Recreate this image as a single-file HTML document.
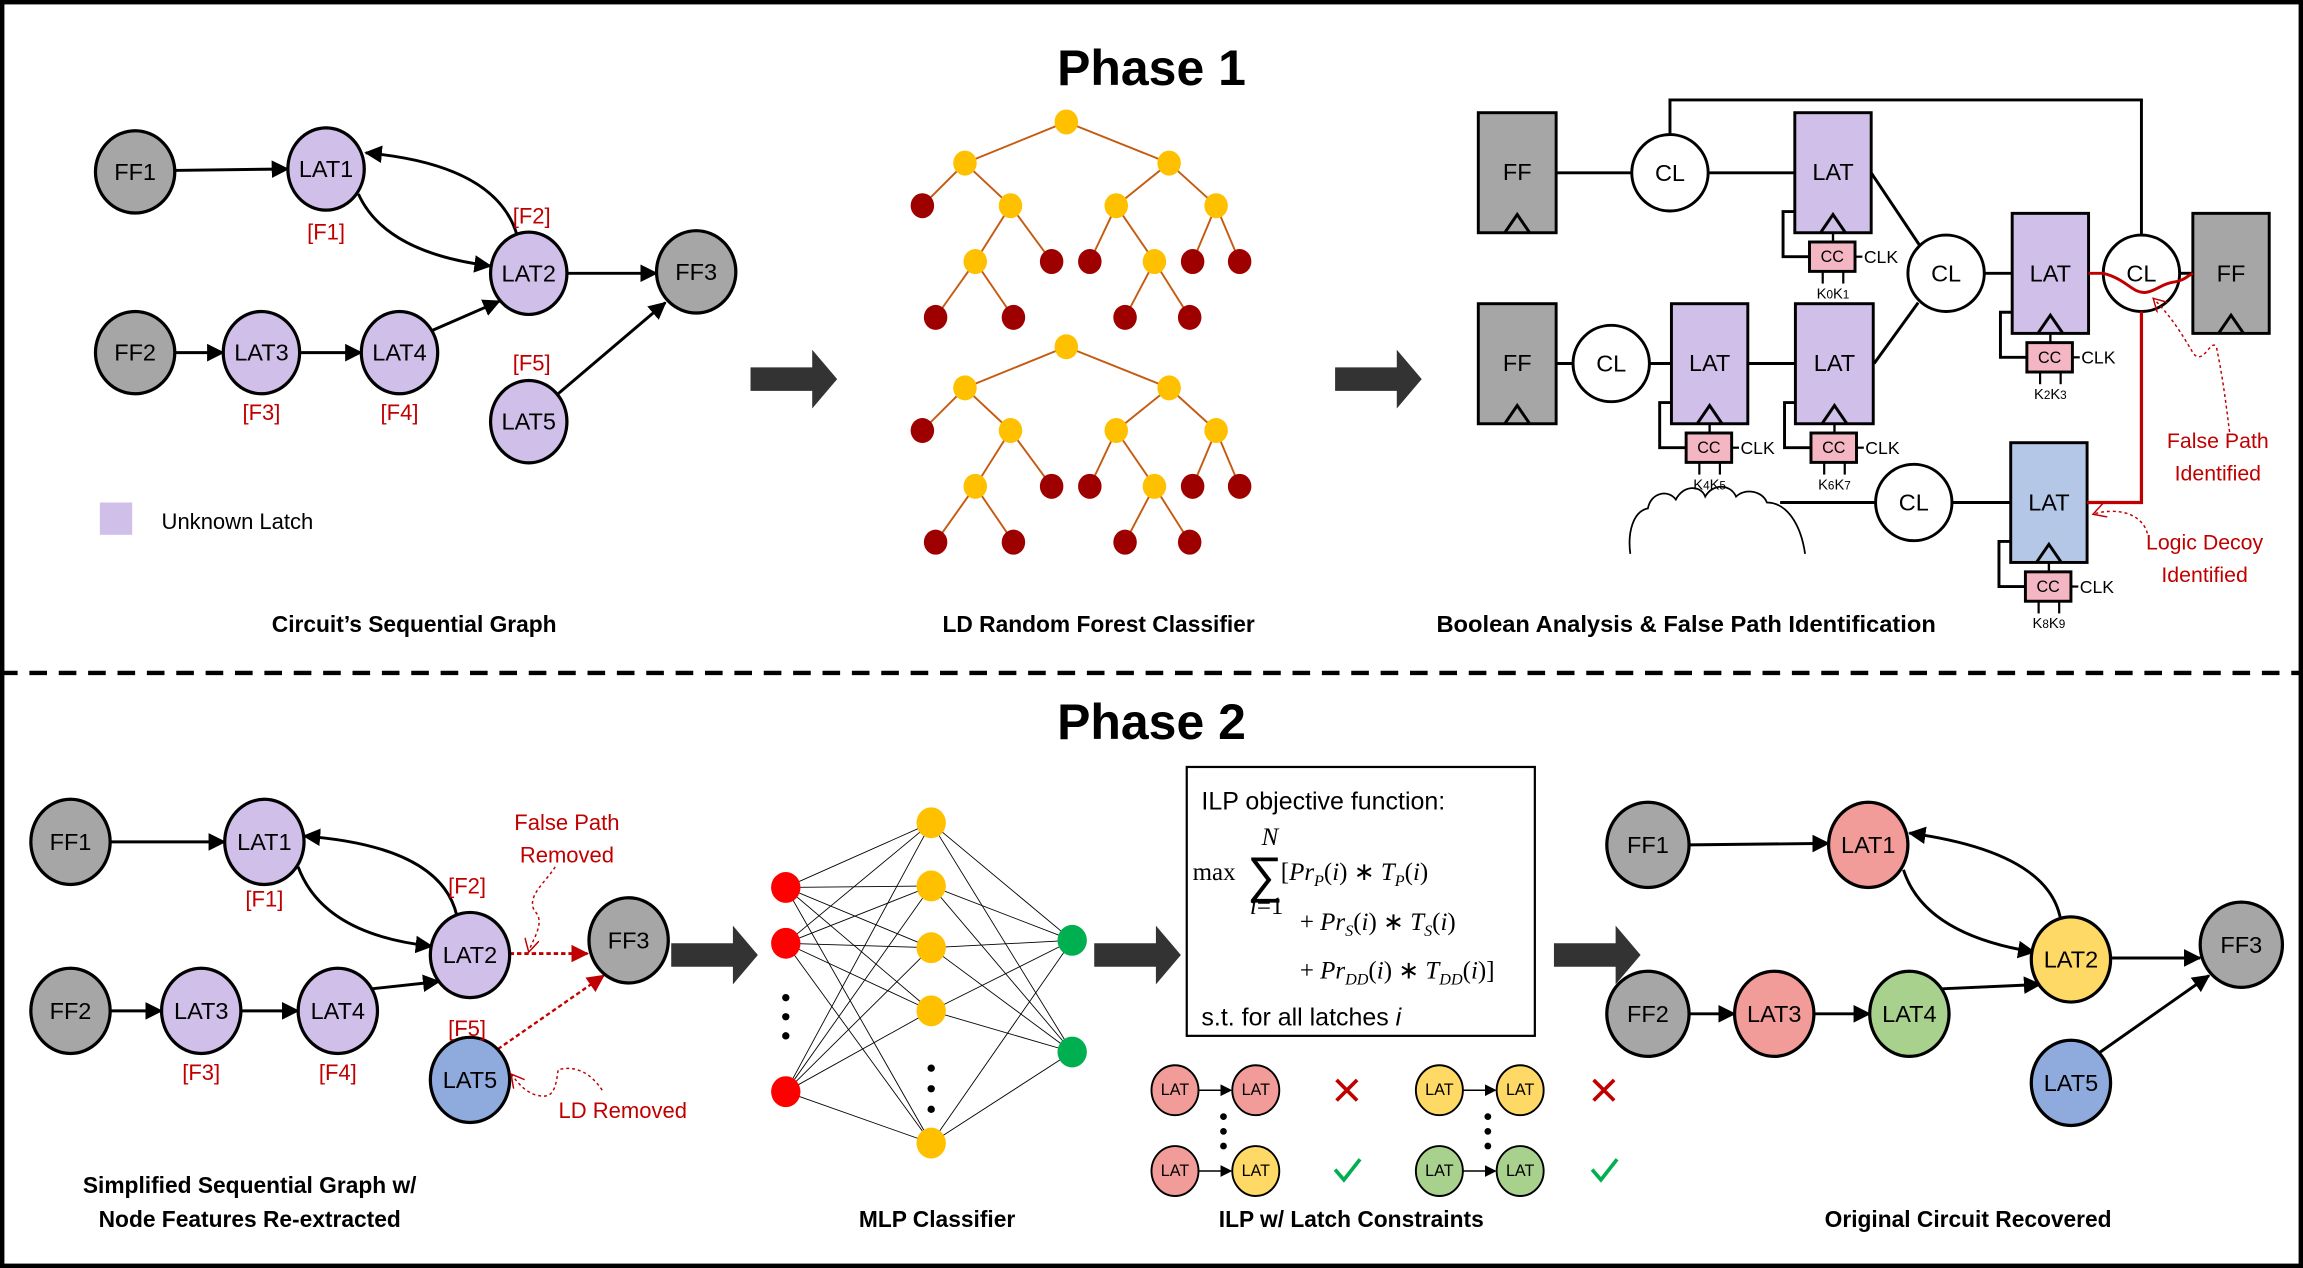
<!DOCTYPE html>
<html><head><meta charset="utf-8"><style>
html,body{margin:0;padding:0;background:#fff;}
svg{display:block;}
text{font-family:"Liberation Sans",sans-serif;}
.n{font-size:16px;text-anchor:middle;dominant-baseline:central;fill:#000;}
.f{font-size:15px;text-anchor:middle;fill:#c00000;}
.cap{font-size:15.5px;font-weight:bold;text-anchor:middle;fill:#000;}
.w{stroke:#000;stroke-width:2;fill:none;}
.e{stroke:#000;stroke-width:2;}
.t{stroke:#c55a11;stroke-width:1.3;}
.m{stroke:#000;stroke-width:0.6;}
.sm{font-size:11px;text-anchor:middle;dominant-baseline:central;}
.k{font-size:10px;text-anchor:middle;}
.clk{font-size:12px;}
.math{font-family:"Liberation Serif",serif;font-size:17px;}
</style></head><body>
<svg width="2303" height="1268" viewBox="0 0 1568 863" preserveAspectRatio="none" xmlns="http://www.w3.org/2000/svg">
<defs>
<marker id="ah" markerUnits="userSpaceOnUse" markerWidth="12" markerHeight="12" refX="11" refY="6" orient="auto"><path d="M0,0 L12,6 L0,12 z" fill="#000"/></marker>
<marker id="ahs" markerUnits="userSpaceOnUse" markerWidth="8" markerHeight="8" refX="7" refY="4" orient="auto"><path d="M0,0 L8,4 L0,8 z" fill="#000"/></marker>
<marker id="ahr" markerUnits="userSpaceOnUse" markerWidth="12" markerHeight="12" refX="11" refY="6" orient="auto"><path d="M0,0 L12,6 L0,12 z" fill="#c00000"/></marker>
<marker id="ahro" markerUnits="userSpaceOnUse" markerWidth="10" markerHeight="10" refX="9" refY="5" orient="auto"><path d="M0,0 L9,5 L0,10" fill="none" stroke="#c00000" stroke-width="1"/></marker>
</defs>
<rect x="1.5" y="1.5" width="1565" height="860" fill="#fff" stroke="#000" stroke-width="3"/>
<line x1="0" y1="458" x2="1568" y2="458" stroke="#000" stroke-width="3" stroke-dasharray="12,8"/>
<text x="784" y="58" font-size="34" font-weight="bold" text-anchor="middle">Phase 1</text>
<text x="784" y="503" font-size="34" font-weight="bold" text-anchor="middle">Phase 2</text>

<!-- Phase1 graph -->
<g>
<line class="e" x1="118" y1="116" x2="196" y2="115" marker-end="url(#ah)"/>
<path class="w" d="M244,132 Q262,172 334,181" marker-end="url(#ah)"/>
<path class="w" d="M352,160 Q338,112 249,104" marker-end="url(#ah)"/>
<line class="e" x1="386" y1="186" x2="447" y2="186" marker-end="url(#ah)"/>
<line class="e" x1="118" y1="240" x2="152" y2="240" marker-end="url(#ah)"/>
<line class="e" x1="204" y1="240" x2="246" y2="240" marker-end="url(#ah)"/>
<line class="e" x1="294" y1="225" x2="340" y2="205" marker-end="url(#ah)"/>
<line class="e" x1="380" y1="268" x2="453" y2="206" marker-end="url(#ah)"/>
<g stroke="#000" stroke-width="2.2">
<ellipse cx="92" cy="117" rx="27" ry="28" fill="#a6a6a6"/>
<ellipse cx="222" cy="115" rx="26" ry="28" fill="#d0bfe9"/>
<ellipse cx="360" cy="186" rx="26" ry="28" fill="#d0bfe9"/>
<ellipse cx="474" cy="185" rx="27" ry="28" fill="#a6a6a6"/>
<ellipse cx="92" cy="240" rx="27" ry="28" fill="#a6a6a6"/>
<ellipse cx="178" cy="240" rx="26" ry="28" fill="#d0bfe9"/>
<ellipse cx="272" cy="240" rx="26" ry="28" fill="#d0bfe9"/>
<ellipse cx="360" cy="287" rx="26" ry="28" fill="#d0bfe9"/>
</g>
<text class="n" x="92" y="117">FF1</text><text class="n" x="222" y="115">LAT1</text>
<text class="n" x="360" y="186">LAT2</text><text class="n" x="474" y="185">FF3</text>
<text class="n" x="92" y="240">FF2</text><text class="n" x="178" y="240">LAT3</text>
<text class="n" x="272" y="240">LAT4</text><text class="n" x="360" y="287">LAT5</text>
<text class="f" x="222" y="163">[F1]</text><text class="f" x="362" y="152">[F2]</text>
<text class="f" x="178" y="286">[F3]</text><text class="f" x="272" y="286">[F4]</text>
<text class="f" x="362" y="252">[F5]</text>
<rect x="68" y="342" width="22" height="22" fill="#d0bfe9"/>
<text x="110" y="360" font-size="15">Unknown Latch</text>
<text class="cap" x="282" y="430">Circuit’s Sequential Graph</text>
</g>

<!-- big arrows -->
<g fill="#333">
<polygon points="511,250 553,250 553,238 570,258 553,278 553,266 511,266"/>
<polygon points="909,250 951,250 951,238 968,258 951,278 951,266 909,266"/>
<polygon points="457,642 499,642 499,630 516,650 499,670 499,658 457,658"/>
<polygon points="745,642 787,642 787,630 804,650 787,670 787,658 745,658"/>
<polygon points="1058,642 1100,642 1100,630 1117,650 1100,670 1100,658 1058,658"/>
</g>

<!-- Trees -->
<g id="tree">
<g class="t">
<line x1="726" y1="83" x2="657" y2="111"/><line x1="726" y1="83" x2="796" y2="111"/>
<line x1="657" y1="111" x2="628" y2="140"/><line x1="657" y1="111" x2="688" y2="140"/>
<line x1="688" y1="140" x2="664" y2="178"/><line x1="688" y1="140" x2="716" y2="178"/>
<line x1="664" y1="178" x2="637" y2="216"/><line x1="664" y1="178" x2="690" y2="216"/>
<line x1="796" y1="111" x2="760" y2="140"/><line x1="796" y1="111" x2="828" y2="140"/>
<line x1="760" y1="140" x2="742" y2="178"/><line x1="760" y1="140" x2="786" y2="178"/>
<line x1="786" y1="178" x2="766" y2="216"/><line x1="786" y1="178" x2="810" y2="216"/>
<line x1="828" y1="140" x2="812" y2="178"/><line x1="828" y1="140" x2="844" y2="178"/>
</g>
<g fill="#ffc000">
<ellipse cx="726" cy="83" rx="8" ry="8.5"/><ellipse cx="657" cy="111" rx="8" ry="8.5"/><ellipse cx="796" cy="111" rx="8" ry="8.5"/>
<ellipse cx="688" cy="140" rx="8" ry="8.5"/><ellipse cx="760" cy="140" rx="8" ry="8.5"/><ellipse cx="828" cy="140" rx="8" ry="8.5"/>
<ellipse cx="664" cy="178" rx="8" ry="8.5"/><ellipse cx="786" cy="178" rx="8" ry="8.5"/>
</g>
<g fill="#9e0000">
<ellipse cx="628" cy="140" rx="8" ry="8.5"/><ellipse cx="716" cy="178" rx="8" ry="8.5"/><ellipse cx="742" cy="178" rx="8" ry="8.5"/>
<ellipse cx="812" cy="178" rx="8" ry="8.5"/><ellipse cx="844" cy="178" rx="8" ry="8.5"/>
<ellipse cx="637" cy="216" rx="8" ry="8.5"/><ellipse cx="690" cy="216" rx="8" ry="8.5"/><ellipse cx="766" cy="216" rx="8" ry="8.5"/><ellipse cx="810" cy="216" rx="8" ry="8.5"/>
</g>
</g>
<use href="#tree" transform="translate(0,153)"/>
<text class="cap" x="748" y="430">LD Random Forest Classifier</text>

<!-- Circuit -->
<g>
<polyline class="w" points="1137,92 1137,68 1458,68 1458,160"/>
<line class="w" x1="1059" y1="117.6" x2="1111" y2="117.6"/>
<line class="w" x1="1163" y1="117.6" x2="1222" y2="117.6"/>
<line class="w" x1="1274" y1="117.6" x2="1307" y2="167"/>
<line class="w" x1="1276" y1="247.4" x2="1306" y2="206"/>
<line class="w" x1="1351" y1="186" x2="1370" y2="186"/>
<line class="w" x1="1484" y1="186" x2="1493" y2="186"/>
<line class="w" x1="1059" y1="247.4" x2="1071" y2="247.4"/>
<line class="w" x1="1123" y1="247.4" x2="1138" y2="247.4"/>
<line class="w" x1="1190" y1="247.4" x2="1222" y2="247.4"/>
<line class="w" x1="1212" y1="342" x2="1277" y2="342"/>
<line class="w" x1="1329" y1="342" x2="1369" y2="342"/>
<g stroke="#000" stroke-width="2">
<rect x="1006.5" y="76.7" width="53" height="81.7" fill="#a6a6a6"/>
<rect x="1006.5" y="206.7" width="53" height="81.7" fill="#a6a6a6"/>
<rect x="1493" y="145.2" width="52" height="81.7" fill="#a6a6a6"/>
<rect x="1222" y="76.7" width="52" height="81.7" fill="#d0bfe9"/>
<rect x="1370" y="145.2" width="52" height="81.7" fill="#d0bfe9"/>
<rect x="1138" y="206.7" width="52" height="81.7" fill="#d0bfe9"/>
<rect x="1222.4" y="206.7" width="53" height="81.7" fill="#d0bfe9"/>
<rect x="1369" y="301.3" width="52" height="81.5" fill="#b4c7e7"/>
<ellipse cx="1137" cy="117.6" rx="26" ry="26" fill="#fff"/>
<ellipse cx="1325" cy="186" rx="26" ry="26" fill="#fff"/>
<ellipse cx="1458" cy="186" rx="26" ry="26" fill="#fff"/>
<ellipse cx="1097" cy="247.4" rx="26" ry="26" fill="#fff"/>
<ellipse cx="1303" cy="342" rx="26" ry="26" fill="#fff"/>
</g>
<g fill="none" stroke="#000" stroke-width="2">
<path d="M1024.5,158.4 L1033,146 L1041.5,158.4"/>
<path d="M1024.5,288.4 L1033,276 L1041.5,288.4"/>
<path d="M1510.5,226.9 L1519,214.5 L1527.5,226.9"/>
<path d="M1239.5,158.4 L1248,146 L1256.5,158.4"/>
<path d="M1387.5,226.9 L1396,214.5 L1404.5,226.9"/>
<path d="M1155.5,288.4 L1164,276 L1172.5,288.4"/>
<path d="M1240.5,288.4 L1249,276 L1257.5,288.4"/>
<path d="M1386.5,382.8 L1395,370.5 L1403.5,382.8"/>
</g>
<text class="n" x="1033" y="117" font-size="15">FF</text>
<text class="n" x="1033" y="247" font-size="15">FF</text>
<text class="n" x="1519" y="186" font-size="15">FF</text>
<text class="n" x="1248" y="117" font-size="15">LAT</text>
<text class="n" x="1396" y="186" font-size="15">LAT</text>
<text class="n" x="1164" y="247" font-size="15">LAT</text>
<text class="n" x="1249" y="247" font-size="15">LAT</text>
<text class="n" x="1395" y="342" font-size="15">LAT</text>
<text class="n" x="1137" y="117.6" font-size="15">CL</text>
<text class="n" x="1325" y="186" font-size="15">CL</text>
<text class="n" x="1458" y="186" font-size="15">CL</text>
<text class="n" x="1097" y="247.4" font-size="15">CL</text>
<text class="n" x="1303" y="342" font-size="15">CL</text>
<g id="cc1">
<polyline class="w" points="1222,144 1214,144 1214,174.7 1232,174.7" stroke-width="1.6"/>
<line x1="1248" y1="158.4" x2="1248" y2="164.7" stroke="#000" stroke-width="1.6"/>
<rect x="1232" y="164.7" width="31" height="20" fill="#f4b6c2" stroke="#000" stroke-width="2"/>
<text class="sm" x="1247.5" y="175" font-size="12">CC</text>
<line x1="1263" y1="174.7" x2="1268" y2="174.7" stroke="#000" stroke-width="1.5"/>
<text class="clk" x="1269" y="179">CLK</text>
<line x1="1241" y1="184.7" x2="1241" y2="193" stroke="#000" stroke-width="1.5"/>
<line x1="1255" y1="184.7" x2="1255" y2="193" stroke="#000" stroke-width="1.5"/>
</g>
<text class="k" x="1248" y="203">K<tspan font-size="8">0</tspan>K<tspan font-size="8">1</tspan></text>
<use href="#cc1" transform="translate(148,68.5)"/>
<text class="k" x="1396" y="271.5">K<tspan font-size="8">2</tspan>K<tspan font-size="8">3</tspan></text>
<use href="#cc1" transform="translate(-84,130)"/>
<text class="k" x="1164" y="333">K<tspan font-size="8">4</tspan>K<tspan font-size="8">5</tspan></text>
<use href="#cc1" transform="translate(1,130)"/>
<text class="k" x="1249" y="333">K<tspan font-size="8">6</tspan>K<tspan font-size="8">7</tspan></text>
<use href="#cc1" transform="translate(147,224.5)"/>
<text class="k" x="1395" y="427.5">K<tspan font-size="8">8</tspan>K<tspan font-size="8">9</tspan></text>
<path d="M1110,377 C1108,362 1112,348 1122,346 C1124,335 1136,333 1141,340 C1146,330 1158,330 1161,338 C1166,329 1178,329 1182,338 C1188,332 1200,334 1203,342 C1216,342 1226,356 1229,377" fill="none" stroke="#000" stroke-width="1.2"/>
<path d="M1422,186 L1432,186 C1448,190 1452,200 1461,199 C1468,198 1472,193 1480,192 C1487,191 1489,188 1493,186" fill="none" stroke="#c00000" stroke-width="2"/>
<polyline points="1421,342 1458,342 1458,212" fill="none" stroke="#c00000" stroke-width="2.2"/>
<path d="M1518,294 C1515,270 1513,255 1509,236 C1505,230 1500,250 1493,240 C1486,228 1478,215 1466,203" fill="none" stroke="#c00000" stroke-width="1" stroke-dasharray="2,2" marker-end="url(#ahro)"/>
<path d="M1462,363 C1460,355 1452,348 1438,348 C1432,348 1428,349 1425,350" fill="none" stroke="#c00000" stroke-width="1" stroke-dasharray="2,2" marker-end="url(#ahro)"/>
<text x="1510" y="305" font-size="14.5" fill="#c00000" text-anchor="middle">False Path</text>
<text x="1510" y="327" font-size="14.5" fill="#c00000" text-anchor="middle">Identified</text>
<text x="1501" y="374" font-size="14.5" fill="#c00000" text-anchor="middle">Logic Decoy</text>
<text x="1501" y="396" font-size="14.5" fill="#c00000" text-anchor="middle">Identified</text>
<text class="cap" x="1148" y="430" textLength="340" lengthAdjust="spacingAndGlyphs">Boolean Analysis &amp; False Path Identification</text>
</g>

<!-- Phase2 left graph -->
<g>
<line class="e" x1="75" y1="573" x2="153" y2="573" marker-end="url(#ah)"/>
<path class="w" d="M203,590 Q220,636 294,644" marker-end="url(#ah)"/>
<path class="w" d="M311,623 Q300,576 207,569" marker-end="url(#ah)"/>
<line class="e" x1="75" y1="688" x2="110" y2="688" marker-end="url(#ah)"/>
<line class="e" x1="164" y1="688" x2="203" y2="688" marker-end="url(#ah)"/>
<line class="e" x1="253" y1="673" x2="299" y2="668" marker-end="url(#ah)"/>
<line x1="347" y1="649" x2="400" y2="649" stroke="#c00000" stroke-width="2" stroke-dasharray="3,2" marker-end="url(#ahr)"/>
<line x1="339" y1="714" x2="411" y2="664" stroke="#c00000" stroke-width="1.6" stroke-dasharray="3,2" marker-end="url(#ahr)"/>
<g stroke="#000" stroke-width="2.2">
<ellipse cx="48" cy="573" rx="27" ry="29" fill="#a6a6a6"/>
<ellipse cx="180" cy="573" rx="27" ry="29" fill="#d0bfe9"/>
<ellipse cx="320" cy="650" rx="27" ry="29" fill="#d0bfe9"/>
<ellipse cx="428" cy="640" rx="27" ry="29" fill="#a6a6a6"/>
<ellipse cx="48" cy="688" rx="27" ry="29" fill="#a6a6a6"/>
<ellipse cx="137" cy="688" rx="27" ry="29" fill="#d0bfe9"/>
<ellipse cx="230" cy="688" rx="27" ry="29" fill="#d0bfe9"/>
<ellipse cx="320" cy="735" rx="27" ry="29" fill="#8faadc"/>
</g>
<text class="n" x="48" y="573">FF1</text><text class="n" x="180" y="573">LAT1</text>
<text class="n" x="320" y="650">LAT2</text><text class="n" x="428" y="640">FF3</text>
<text class="n" x="48" y="688">FF2</text><text class="n" x="137" y="688">LAT3</text>
<text class="n" x="230" y="688">LAT4</text><text class="n" x="320" y="735">LAT5</text>
<text class="f" x="180" y="617">[F1]</text><text class="f" x="318" y="608">[F2]</text>
<text class="f" x="137" y="735">[F3]</text><text class="f" x="230" y="735">[F4]</text>
<text class="f" x="318" y="705">[F5]</text>
<text x="386" y="565" font-size="15" fill="#c00000" text-anchor="middle">False Path</text>
<text x="386" y="587" font-size="15" fill="#c00000" text-anchor="middle">Removed</text>
<text x="424" y="761" font-size="15" fill="#c00000" text-anchor="middle">LD Removed</text>
<path d="M378,590 C372,600 358,610 364,620 C372,628 362,640 360,648" fill="none" stroke="#c00000" stroke-width="1" stroke-dasharray="2,2" marker-end="url(#ahro)"/>
<path d="M410,742 C402,730 392,725 380,728 C378,745 375,748 364,745 C356,742 352,736 348,731" fill="none" stroke="#c00000" stroke-width="1" stroke-dasharray="2,2" marker-end="url(#ahro)"/>
<text class="cap" x="170" y="812">Simplified Sequential Graph w/</text>
<text class="cap" x="170" y="835">Node Features Re-extracted</text>
</g>

<!-- MLP -->
<g>
<g class="m">
<line x1="535" y1="604" x2="634" y2="560"/><line x1="535" y1="604" x2="634" y2="603"/><line x1="535" y1="604" x2="634" y2="645"/><line x1="535" y1="604" x2="634" y2="688"/><line x1="535" y1="604" x2="634" y2="778"/>
<line x1="535" y1="642" x2="634" y2="560"/><line x1="535" y1="642" x2="634" y2="603"/><line x1="535" y1="642" x2="634" y2="645"/><line x1="535" y1="642" x2="634" y2="688"/><line x1="535" y1="642" x2="634" y2="778"/>
<line x1="535" y1="743" x2="634" y2="560"/><line x1="535" y1="743" x2="634" y2="603"/><line x1="535" y1="743" x2="634" y2="645"/><line x1="535" y1="743" x2="634" y2="688"/><line x1="535" y1="743" x2="634" y2="778"/>
<line x1="634" y1="560" x2="730" y2="640"/><line x1="634" y1="603" x2="730" y2="640"/><line x1="634" y1="645" x2="730" y2="640"/><line x1="634" y1="688" x2="730" y2="640"/><line x1="634" y1="778" x2="730" y2="640"/>
<line x1="634" y1="560" x2="730" y2="716"/><line x1="634" y1="603" x2="730" y2="716"/><line x1="634" y1="645" x2="730" y2="716"/><line x1="634" y1="688" x2="730" y2="716"/><line x1="634" y1="778" x2="730" y2="716"/>
</g>
<g fill="#ff0000"><ellipse cx="535" cy="604" rx="10" ry="10.5"/><ellipse cx="535" cy="642" rx="10" ry="10.5"/><ellipse cx="535" cy="743" rx="10" ry="10.5"/></g>
<g fill="#ffc000"><ellipse cx="634" cy="560" rx="10" ry="10.5"/><ellipse cx="634" cy="603" rx="10" ry="10.5"/><ellipse cx="634" cy="645" rx="10" ry="10.5"/><ellipse cx="634" cy="688" rx="10" ry="10.5"/><ellipse cx="634" cy="778" rx="10" ry="10.5"/></g>
<g fill="#00b050"><ellipse cx="730" cy="640" rx="10" ry="10.5"/><ellipse cx="730" cy="716" rx="10" ry="10.5"/></g>
<g fill="#000"><circle cx="535" cy="679" r="2.5"/><circle cx="535" cy="692" r="2.5"/><circle cx="535" cy="705" r="2.5"/>
<circle cx="634" cy="727" r="2.5"/><circle cx="634" cy="741" r="2.5"/><circle cx="634" cy="755" r="2.5"/></g>
<text class="cap" x="638" y="835">MLP Classifier</text>
</g>

<!-- ILP -->
<g>
<rect x="808" y="522" width="237" height="183" fill="#fff" stroke="#000" stroke-width="1.5"/>
<text x="818" y="551" font-size="17">ILP objective function:</text>
<text class="math" x="812" y="599">max</text>
<text x="849" y="607" font-family="DejaVu Serif, serif" font-size="34">∑</text>
<text class="math" x="859" y="575" font-size="11" font-style="italic">N</text>
<text class="math" x="851" y="622" font-size="11"><tspan font-style="italic">i</tspan>=1</text>
<text class="math" x="872" y="599">[<tspan font-style="italic">Pr</tspan><tspan font-size="11" font-style="italic" dy="4">P</tspan><tspan dy="-4">(</tspan><tspan font-style="italic">i</tspan>) ∗ <tspan font-style="italic">T</tspan><tspan font-size="11" font-style="italic" dy="4">P</tspan><tspan dy="-4">(</tspan><tspan font-style="italic">i</tspan>)</text>
<text class="math" x="885" y="633">+ <tspan font-style="italic">Pr</tspan><tspan font-size="11" font-style="italic" dy="4">S</tspan><tspan dy="-4">(</tspan><tspan font-style="italic">i</tspan>) ∗ <tspan font-style="italic">T</tspan><tspan font-size="11" font-style="italic" dy="4">S</tspan><tspan dy="-4">(</tspan><tspan font-style="italic">i</tspan>)</text>
<text class="math" x="885" y="666">+ <tspan font-style="italic">Pr</tspan><tspan font-size="11" font-style="italic" dy="4">DD</tspan><tspan dy="-4">(</tspan><tspan font-style="italic">i</tspan>) ∗ <tspan font-style="italic">T</tspan><tspan font-size="11" font-style="italic" dy="4">DD</tspan><tspan dy="-4">(</tspan><tspan font-style="italic">i</tspan>)]</text>
<text x="818" y="698" font-size="17">s.t. for all latches <tspan font-style="italic">i</tspan></text>

<g stroke="#000" stroke-width="1">
<line x1="816" y1="742" x2="838" y2="742" marker-end="url(#ahs)"/>
<line x1="816" y1="797" x2="838" y2="797" marker-end="url(#ahs)"/>
<line x1="996" y1="742" x2="1018" y2="742" marker-end="url(#ahs)"/>
<line x1="996" y1="797" x2="1018" y2="797" marker-end="url(#ahs)"/>
</g>
<g stroke="#000" stroke-width="1.3">
<ellipse cx="800" cy="742" rx="16" ry="17" fill="#f19c99"/>
<ellipse cx="855" cy="742" rx="16" ry="17" fill="#f19c99"/>
<ellipse cx="800" cy="797" rx="16" ry="17" fill="#f19c99"/>
<ellipse cx="855" cy="797" rx="16" ry="17" fill="#ffd966"/>
<ellipse cx="980" cy="742" rx="16" ry="17" fill="#ffd966"/>
<ellipse cx="1035" cy="742" rx="16" ry="17" fill="#ffd966"/>
<ellipse cx="980" cy="797" rx="16" ry="17" fill="#a9d18e"/>
<ellipse cx="1035" cy="797" rx="16" ry="17" fill="#a9d18e"/>
</g>
<g font-size="10.5"><text class="sm" x="800" y="742">LAT</text><text class="sm" x="855" y="742">LAT</text><text class="sm" x="800" y="797">LAT</text><text class="sm" x="855" y="797">LAT</text>
<text class="sm" x="980" y="742">LAT</text><text class="sm" x="1035" y="742">LAT</text><text class="sm" x="980" y="797">LAT</text><text class="sm" x="1035" y="797">LAT</text></g>
<g fill="#000"><circle cx="833" cy="760" r="2.3"/><circle cx="833" cy="770" r="2.3"/><circle cx="833" cy="780" r="2.3"/>
<circle cx="1013" cy="760" r="2.3"/><circle cx="1013" cy="770" r="2.3"/><circle cx="1013" cy="780" r="2.3"/></g>
<g stroke="#c00000" stroke-width="2.5"><line x1="910" y1="735" x2="924" y2="749"/><line x1="924" y1="735" x2="910" y2="749"/>
<line x1="1085" y1="735" x2="1099" y2="749"/><line x1="1099" y1="735" x2="1085" y2="749"/></g>
<g stroke="#00b050" stroke-width="2.5" fill="none"><polyline points="909,796 915,803 926,789"/><polyline points="1084,796 1090,803 1101,789"/></g>
<text class="cap" x="920" y="835">ILP w/ Latch Constraints</text>
</g>

<!-- Recovered -->
<g>
<line class="e" x1="1150" y1="575" x2="1245" y2="574" marker-end="url(#ah)"/>
<path class="w" d="M1296,592 Q1310,636 1385,648" marker-end="url(#ah)"/>
<path class="w" d="M1403,626 Q1395,580 1300,567" marker-end="url(#ah)"/>
<line class="e" x1="1438" y1="652" x2="1498" y2="652" marker-end="url(#ah)"/>
<line class="e" x1="1150" y1="690" x2="1181" y2="690" marker-end="url(#ah)"/>
<line class="e" x1="1236" y1="690" x2="1273" y2="690" marker-end="url(#ah)"/>
<line class="e" x1="1322" y1="673" x2="1389" y2="670" marker-end="url(#ah)"/>
<line class="e" x1="1430" y1="716" x2="1504" y2="664" marker-end="url(#ah)"/>
<g stroke="#000" stroke-width="2.2">
<ellipse cx="1122" cy="575" rx="28" ry="29" fill="#a6a6a6"/>
<ellipse cx="1272" cy="575" rx="27" ry="29" fill="#f19c99"/>
<ellipse cx="1410" cy="653" rx="27" ry="29" fill="#ffd966"/>
<ellipse cx="1526" cy="643" rx="28" ry="29" fill="#a6a6a6"/>
<ellipse cx="1122" cy="690" rx="28" ry="29" fill="#a6a6a6"/>
<ellipse cx="1208" cy="690" rx="27" ry="29" fill="#f19c99"/>
<ellipse cx="1300" cy="690" rx="27" ry="29" fill="#a9d18e"/>
<ellipse cx="1410" cy="737" rx="27" ry="29" fill="#8faadc"/>
</g>
<text class="n" x="1122" y="575">FF1</text><text class="n" x="1272" y="575">LAT1</text>
<text class="n" x="1410" y="653">LAT2</text><text class="n" x="1526" y="643">FF3</text>
<text class="n" x="1122" y="690">FF2</text><text class="n" x="1208" y="690">LAT3</text>
<text class="n" x="1300" y="690">LAT4</text><text class="n" x="1410" y="737">LAT5</text>
<text class="cap" x="1340" y="835">Original Circuit Recovered</text>
</g>
</svg>
</body></html>
